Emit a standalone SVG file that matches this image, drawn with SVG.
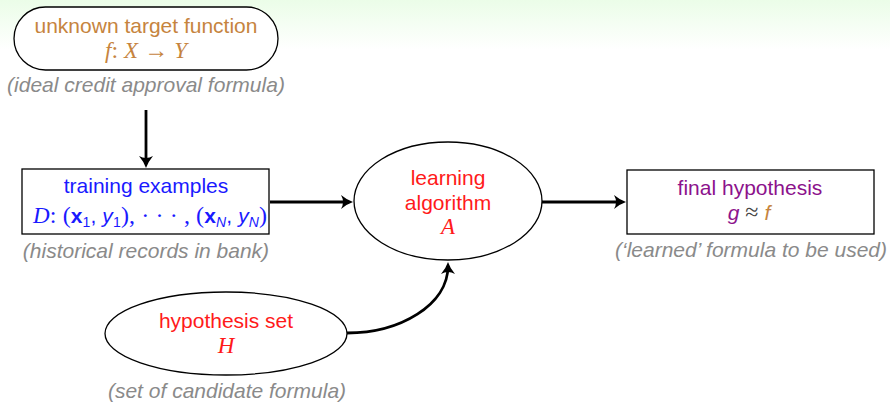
<svg xmlns="http://www.w3.org/2000/svg" width="890" height="404" viewBox="0 0 890 404">
  <defs>
    <linearGradient id="bg" x1="0" y1="0" x2="0" y2="1">
      <stop offset="0" stop-color="#ebfde8"/>
      <stop offset="1" stop-color="#ffffff"/>
    </linearGradient>
    <marker id="head" markerUnits="userSpaceOnUse" viewBox="-14 -8 20 16" refX="0" refY="0" markerWidth="20" markerHeight="16" orient="auto" overflow="visible">
      <path d="M4,0 Q-2,-2 -8,-7 Q-4,0 -8,7 Q-2,2 4,0 Z" fill="#000"/>
    </marker>
  </defs>
  <style>
    text { font-family: "Liberation Sans", Arial, sans-serif; font-size: 21px; text-anchor: middle; }
    .cap { fill: #8a8a8a; font-style: italic; }
    .math { font-family: "Liberation Serif", "Times New Roman", serif; font-style: italic; font-size: 23px; }
    .rm { font-family: "Liberation Serif", "Times New Roman", serif; font-size: 24px; }
    .node { fill: #fff; stroke: #000; stroke-width: 1.3; }
    .edge { fill: none; stroke: #000; stroke-width: 2.8; marker-end: url(#head); }
    .orange { fill: #c6843e; }
    .blue { fill: #1a1aff; }
    .red { fill: #ff1a1a; }
    .purple { fill: #8c128c; }
  </style>

  <rect x="0" y="0" width="890" height="50" fill="url(#bg)"/>

  <!-- target function -->
  <g id="target">
    <rect class="node" x="14" y="7" width="264" height="63" rx="31.5" ry="31.5"/>
    <text class="orange" x="146" y="33">unknown target function</text>
    <text class="orange" x="146" y="58"><tspan class="math">f</tspan><tspan class="rm">: </tspan><tspan class="math">X</tspan><tspan class="rm"> → </tspan><tspan class="math">Y</tspan></text>
    <text class="cap" x="146" y="92">(ideal credit approval formula)</text>
  </g>

  <!-- training data -->
  <g id="training">
    <rect class="node" x="22" y="169" width="247" height="65"/>
    <text class="blue" x="146" y="193">training examples</text>
    <text class="blue" x="150" y="223" textLength="234" lengthAdjust="spacing"><tspan class="math">D</tspan><tspan class="rm">: (</tspan><tspan font-weight="bold">x</tspan><tspan font-size="14" dy="4">1</tspan><tspan dy="-4">, </tspan><tspan font-style="italic">y</tspan><tspan font-size="14" dy="4">1</tspan><tspan class="rm" dy="-4">), · · · , (</tspan><tspan font-weight="bold">x</tspan><tspan font-size="14" font-style="italic" dy="4">N</tspan><tspan dy="-4">, </tspan><tspan font-style="italic">y</tspan><tspan font-size="14" font-style="italic" dy="4">N</tspan><tspan class="rm" dy="-4">)</tspan></text>
    <text class="cap" x="146" y="258">(historical records in bank)</text>
  </g>

  <!-- learning algorithm -->
  <g id="algorithm">
    <ellipse class="node" cx="448" cy="201" rx="94" ry="59"/>
    <text class="red" x="448" y="185">learning</text>
    <text class="red" x="448" y="210">algorithm</text>
    <text class="red math" x="448" y="234">A</text>
  </g>

  <!-- final hypothesis -->
  <g id="final">
    <rect class="node" x="627" y="170" width="247" height="64"/>
    <text class="purple" x="750" y="195">final hypothesis</text>
    <text x="749" y="220"><tspan class="purple" font-style="italic">g</tspan><tspan class="rm" fill="#444"> ≈ </tspan><tspan class="orange" font-style="italic">f</tspan></text>
    <text class="cap" x="751" y="257">(‘learned’ formula to be used)</text>
  </g>

  <!-- hypothesis set -->
  <g id="hypotheses">
    <ellipse class="node" cx="226" cy="333.5" rx="121" ry="41.5"/>
    <text class="red" x="226" y="328">hypothesis set</text>
    <text class="red math" x="226" y="353">H</text>
    <text class="cap" x="227" y="398">(set of candidate formula)</text>
  </g>

  <!-- connectors -->
  <g id="edges">
    <path class="edge" d="M146,110 L146,164"/>
    <path class="edge" d="M270,202 L349,202"/>
    <path class="edge" d="M542,202 L622,202"/>
    <path class="edge" d="M347,333 C400,333 448,305 448,266"/>
  </g>
</svg>
